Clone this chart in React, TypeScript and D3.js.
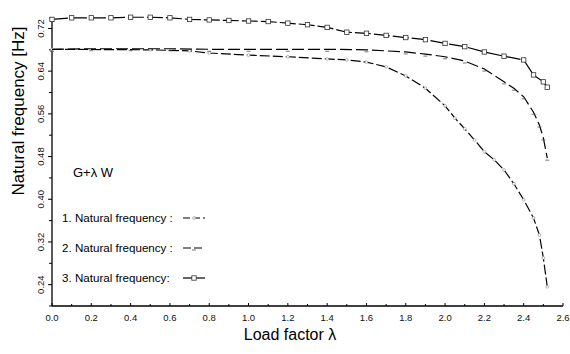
import React from "react";
import * as d3 from "d3";

const lambda1 = [0, 0.5, 0.7, 0.8, 1.0, 1.2, 1.4, 1.5, 1.6, 1.7, 1.8, 1.9, 2.0, 2.05, 2.1, 2.15, 2.2, 2.25, 2.3, 2.35, 2.4, 2.45, 2.48, 2.5, 2.52];
const freq1 = [0.681, 0.68, 0.678, 0.674, 0.67, 0.667, 0.663, 0.661, 0.657, 0.648, 0.631, 0.608, 0.575, 0.552, 0.532, 0.511, 0.489, 0.474, 0.455, 0.429, 0.399, 0.365, 0.333, 0.29, 0.236];

const lambda2 = [0, 0.2, 0.4, 0.6, 0.8, 1.0, 1.2, 1.4, 1.6, 1.8, 1.9, 2.0, 2.1, 2.2, 2.3, 2.35, 2.4, 2.45, 2.48, 2.5, 2.52];
const freq2 = [0.681, 0.682, 0.682, 0.682, 0.681, 0.681, 0.681, 0.681, 0.68, 0.676, 0.672, 0.667, 0.659, 0.644, 0.62, 0.608, 0.592, 0.563, 0.539, 0.515, 0.477];

const lambda3 = [0, 0.1, 0.2, 0.3, 0.4, 0.5, 0.6, 0.7, 0.8, 0.9, 1.0, 1.1, 1.2, 1.3, 1.4, 1.5, 1.6, 1.7, 1.8, 1.9, 2.0, 2.1, 2.2, 2.3, 2.4, 2.45, 2.5, 2.52];
const freq3 = [0.737, 0.74, 0.74, 0.74, 0.741, 0.741, 0.74, 0.737, 0.736, 0.735, 0.734, 0.733, 0.73, 0.727, 0.722, 0.713, 0.711, 0.707, 0.703, 0.699, 0.692, 0.686, 0.676, 0.668, 0.661, 0.633, 0.62, 0.61];

const yMajorTicks = [0.24, 0.32, 0.4, 0.48, 0.56, 0.64, 0.72];
const yMinorTicks = [0.2, 0.28, 0.36, 0.44, 0.52, 0.6, 0.68, 0.74];
const xMajorTicks = [0, 0.2, 0.4, 0.6, 0.8, 1.0, 1.2, 1.4, 1.6, 1.8, 2.0, 2.2, 2.4, 2.6];
const xMinorTicks = [0.1, 0.3, 0.5, 0.7, 0.9, 1.1, 1.3, 1.5, 1.7, 1.9, 2.1, 2.3, 2.5];

const legendLabels = ["1. Natural frequency :", "2. Natural frequency :", "3. Natural frequency:"];

export default function App() {
  const x = d3.scaleLinear().domain([0, 2.6]).range([52, 563]);
  const y = d3.scaleLinear().domain([0.2, 0.74]).range([306, 17.8]);
  const font = "'Liberation Sans', Arial, sans-serif";

  const line = d3
    .line<[number, number]>()
    .x((d) => x(d[0]))
    .y((d) => y(d[1]));

  const s1 = lambda1.map((l, i) => [l, freq1[i]] as [number, number]);
  const s2 = lambda2.map((l, i) => [l, freq2[i]] as [number, number]);
  const s3 = lambda3.map((l, i) => [l, freq3[i]] as [number, number]);

  const legendY = [218, 248, 278];

  return (
    <svg width={570} height={354} style={{ position: "absolute", left: 0, top: 0, background: "#fff" }} fontFamily={font}>
      {/* axes */}
      <line x1={x(0)} x2={x(0)} y1={y(0.2)} y2={y(0.74)} stroke="#000" strokeWidth={1.3} />
      <line x1={x(0)} x2={x(2.6)} y1={y(0.2)} y2={y(0.2)} stroke="#000" strokeWidth={1.3} />
      {yMajorTicks.map((t) => (
        <g key={"ym" + t}>
          <line x1={x(0) - 4} x2={x(0)} y1={y(t)} y2={y(t)} stroke="#000" strokeWidth={1} />
          <text
            transform={`translate(${x(0) - 8},${y(t)}) rotate(-90)`}
            textAnchor="middle"
            fontSize={9.5}
            fill="#111"
          >
            {d3.format(".2f")(t)}
          </text>
        </g>
      ))}
      {yMinorTicks.map((t) => (
        <line key={"yn" + t} x1={x(0) - 3} x2={x(0)} y1={y(t)} y2={y(t)} stroke="#000" strokeWidth={1} />
      ))}
      {xMajorTicks.map((t) => (
        <g key={"xm" + t}>
          <line x1={x(t)} x2={x(t)} y1={y(0.2)} y2={y(0.2) - 3} stroke="#000" strokeWidth={1} />
          <text x={x(t)} y={y(0.2) + 15} textAnchor="middle" fontSize={9.5} fill="#111">
            {d3.format(".1f")(t)}
          </text>
        </g>
      ))}
      {xMinorTicks.map((t) => (
        <line key={"xn" + t} x1={x(t)} x2={x(t)} y1={y(0.2)} y2={y(0.2) - 2} stroke="#000" strokeWidth={1} />
      ))}

      {/* titles */}
      <text transform="translate(24,111) rotate(-90)" textAnchor="middle" fontSize={17} fill="#000">
        Natural frequency [Hz]
      </text>
      <text x={290} y={340} textAnchor="middle" fontSize={16} fill="#000">
        Load factor λ
      </text>
      <text x={73} y={177} fontSize={13} fill="#000">
        G+λ W
      </text>

      {/* series */}
      <path d={line(s1) || ""} fill="none" stroke="#000" strokeWidth={1.2} strokeDasharray="10,3" />
      {s1.map((d, i) => (
        <circle key={"m1" + i} cx={x(d[0])} cy={y(d[1])} r={1.4} fill="#fff" stroke="#888" strokeWidth={0.6} />
      ))}
      <path d={line(s2) || ""} fill="none" stroke="#000" strokeWidth={1.2} strokeDasharray="12,4" />
      {s2.map((d, i) => (
        <line key={"m2" + i} x1={x(d[0]) - 2} x2={x(d[0]) + 2} y1={y(d[1]) + 2} y2={y(d[1]) + 2} stroke="#555" strokeWidth={0.8} />
      ))}
      <path d={line(s3) || ""} fill="none" stroke="#000" strokeWidth={1.2} strokeDasharray="16,3" />
      {s3.map((d, i) => (
        <rect key={"m3" + i} x={x(d[0]) - 2.2} y={y(d[1]) - 2.2} width={4.4} height={4.4} fill="#fff" stroke="#333" strokeWidth={0.8} />
      ))}

      {/* legend */}
      {legendLabels.map((lab, i) => (
        <g key={"lg" + i}>
          <text x={62} y={legendY[i] + 4} fontSize={11.6} fill="#000">
            {lab}
          </text>
          <line x1={183} x2={205} y1={legendY[i]} y2={legendY[i]} stroke="#000" strokeWidth={1.2} strokeDasharray={i === 0 ? "7,3" : i === 1 ? "8,3" : "22,0"} />
          {i === 0 && <circle cx={194} cy={legendY[i]} r={1.4} fill="#fff" stroke="#888" strokeWidth={0.6} />}
          {i === 1 && <line x1={192} x2={196} y1={legendY[i] + 2} y2={legendY[i] + 2} stroke="#555" strokeWidth={0.8} />}
          {i === 2 && <rect x={191.8} y={legendY[i] - 2.2} width={4.4} height={4.4} fill="#fff" stroke="#333" strokeWidth={0.8} />}
        </g>
      ))}
    </svg>
  );
}
